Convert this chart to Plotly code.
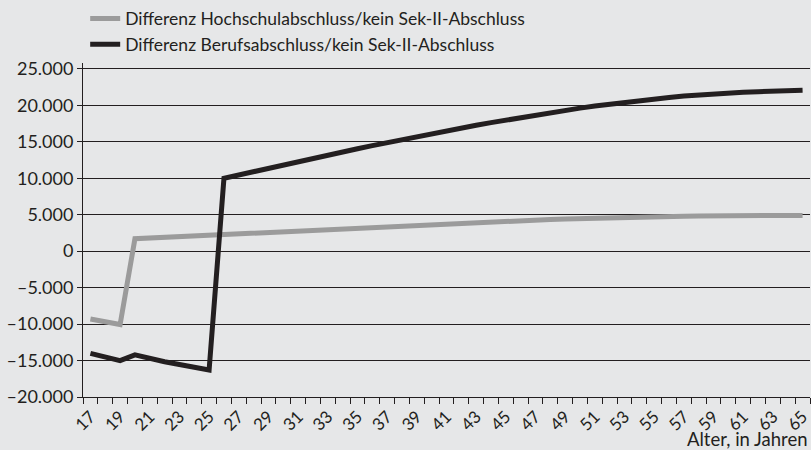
import plotly.graph_objects as go

ages = list(range(17, 66))

hochschule = [-9300, -9680, -10070, 1700, 1800, 1900, 2000, 2100, 2200, 2300,
              2400, 2500, 2600, 2700, 2800, 2900, 3000, 3100, 3200, 3300,
              3400, 3500, 3595, 3690, 3780, 3870, 3955, 4040, 4120, 4200,
              4275, 4350, 4420, 4485, 4545, 4600, 4650, 4695, 4735, 4770,
              4800, 4825, 4845, 4860, 4872, 4882, 4890, 4895, 4900]

beruf = [-14010, -14500, -15010, -14230, -14780, -15160, -15540, -15920, -16300, 10000,
         10470, 10935, 11395, 11850, 12300, 12745, 13185, 13620, 14050, 14475,
         14895, 15310, 15720, 16125, 16510, 16885, 17255, 17620, 17980, 18330,
         18670, 19000, 19315, 19615, 19900, 20170, 20420, 20660, 20880, 21080,
         21260, 21420, 21560, 21680, 21780, 21865, 21940, 22000, 22050]

series_names = ["Differenz Hochschulabschluss/kein Sek-II-Abschluss",
                "Differenz Berufsabschluss/kein Sek-II-Abschluss"]

y_tick_vals = [-20000, -15000, -10000, -5000, 0, 5000, 10000, 15000, 20000, 25000]
y_tick_text = ["–20.000", "–15.000", "–10.000", "–5.000", "0",
               "5.000", "10.000", "15.000", "20.000", "25.000"]

x_tick_vals = list(range(17, 66, 2))
x_tick_text = [str(a) for a in x_tick_vals]

x_title = "Alter, in Jahren"

INK = "#231f20"
BG = "#e6e7e8"
FONT = "Lato"

fig = go.Figure()
fig.add_trace(go.Scatter(x=ages, y=hochschule, mode="lines", name=series_names[0],
                         line=dict(color="#9b9b9b", width=5)))
fig.add_trace(go.Scatter(x=ages, y=beruf, mode="lines", name=series_names[1],
                         line=dict(color=INK, width=5)))

fig.update_layout(
    width=811, height=450,
    paper_bgcolor=BG, plot_bgcolor=BG,
    margin=dict(l=83, r=1, t=63, b=53, autoexpand=False),
    font=dict(family=FONT, color=INK, size=17),
    showlegend=True,
    legend=dict(x=0.003, xanchor="left", y=1.187, yanchor="top",
                bgcolor="rgba(0,0,0,0)", font=dict(size=17.5, family=FONT, color=INK),
                tracegroupgap=0, itemwidth=30),
    xaxis=dict(range=[16.5, 65.5], tickmode="array", tickvals=x_tick_vals,
               ticktext=x_tick_text, tickangle=-45, showgrid=False, zeroline=False,
               showline=True, linecolor=INK, linewidth=1, automargin=False,
               ticklabeloverflow="allow",
               ticks="outside", ticklen=2, tickcolor="rgba(0,0,0,0)",
               tickfont=dict(size=17, family=FONT, color=INK),
               minor=dict(tickmode="linear", tick0=16.5, dtick=1, ticks="outside",
                          ticklen=6, tickcolor=INK, tickwidth=1, showgrid=False)),
    yaxis=dict(range=[-20000, 25800], tickmode="array", tickvals=y_tick_vals,
               ticktext=y_tick_text, showgrid=True, gridcolor=INK, gridwidth=1,
               zeroline=True, zerolinecolor=INK, zerolinewidth=1,
               showline=True, linecolor=INK, linewidth=1, automargin=False,
               ticks="outside", ticklen=5, tickcolor=INK,
               tickfont=dict(size=18, family=FONT, color=INK)),
    annotations=[dict(text=x_title, xref="paper", yref="paper", x=1.0, y=0,
                      xanchor="right", yanchor="top", yshift=-29, showarrow=False,
                      font=dict(size=18.5, family=FONT, color=INK))],
)

fig.write_html("out.html",
               config={"displayModeBar": False},
               post_script="document.body.style.margin='0';"
                           "document.body.style.background='#e6e7e8';")
